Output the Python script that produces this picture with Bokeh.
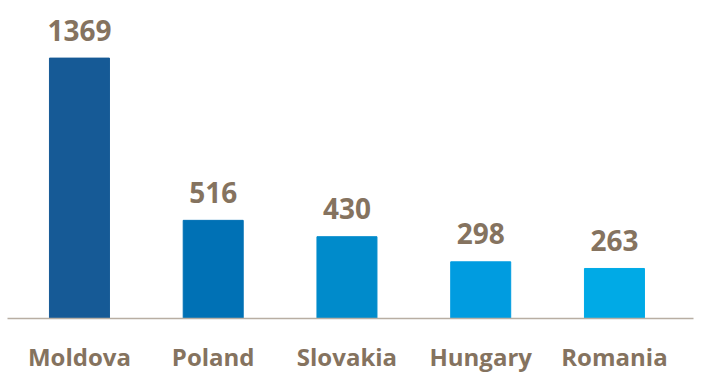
from bokeh.plotting import figure
from bokeh.models import ColumnDataSource, Range1d, FixedTicker
from bokeh.core.properties import value
from bokeh.embed import file_html
from bokeh.resources import INLINE

countries = ["Moldova", "Poland", "Slovakia", "Hungary", "Romania"]
counts = [1369, 516, 430, 298, 263]
bar_colors = ["#165a96", "#0071b5", "#008bcb", "#009ce0", "#00aae6"]

idx = list(range(len(countries)))
src = ColumnDataSource(dict(x=idx, top=counts, color=bar_colors,
                            label=[str(v) for v in counts]))

TEXT = "#85735f"
FONT = "Open Sans"

p = figure(width=705, height=384, output_backend="svg", toolbar_location=None,
           x_range=Range1d(-0.538, 4.591), y_range=Range1d(0, 1671.8),
           y_axis_location=None, min_border_left=7, min_border_right=12,
           min_border_top=0, min_border_bottom=66)
p.outline_line_color = None
p.xgrid.grid_line_color = None
p.ygrid.grid_line_color = None
p.background_fill_color = "white"
p.border_fill_color = "white"

p.vbar(x="x", top="top", bottom=0, width=0.4486, color="color", source=src)
p.text(x="x", y="top", text="label", source=src, y_offset=-28,
       text_align="center", text_baseline="alphabetic",
       text_font=value(FONT), text_font_style="bold",
       text_font_size="28px", text_color=TEXT)

ax = p.xaxis[0]
ax.ticker = FixedTicker(ticks=idx)
ax.major_label_overrides = {i: c for i, c in zip(idx, countries)}
ax.axis_line_color = "#b8aea3"
ax.axis_line_width = 1.5
ax.major_tick_line_color = None
ax.minor_tick_line_color = None
ax.major_tick_out = 0
ax.major_tick_in = 0
ax.major_label_standoff = 21
ax.major_label_text_font = FONT
ax.major_label_text_font_style = "bold"
ax.major_label_text_font_size = "24px"
ax.major_label_text_color = TEXT

open("out.html", "w").write(file_html(p, INLINE))
